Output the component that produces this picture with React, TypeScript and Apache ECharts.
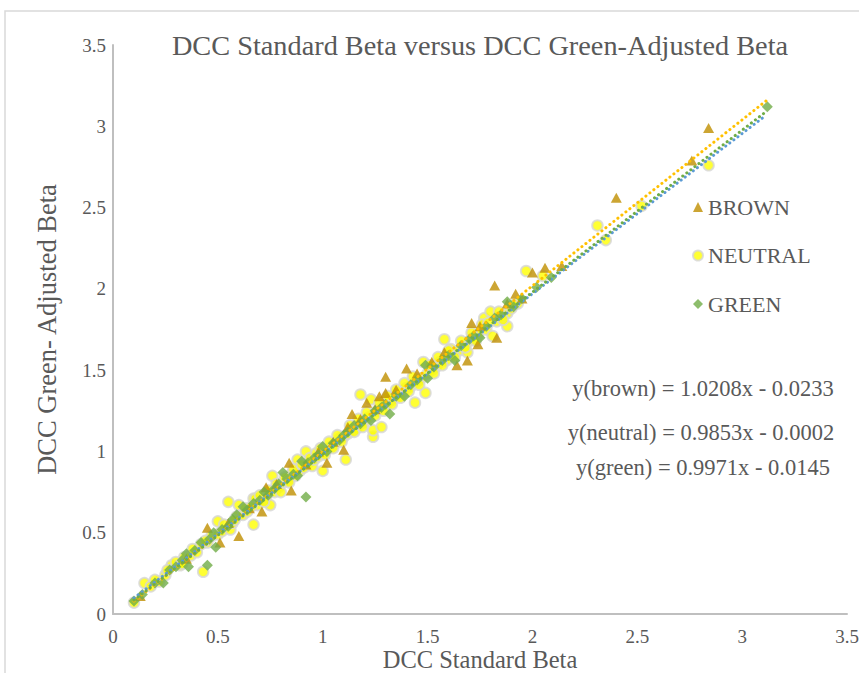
import React, { useEffect, useRef } from "react";
import * as echarts from "echarts";

const FONT = "Liberation Serif";
const TEXT = "#595959";

const seriesNames = ["BROWN", "NEUTRAL", "GREEN"];
const xTicks = [0, 0.5, 1, 1.5, 2, 2.5, 3, 3.5];

const brown: [number, number][] = [
  [0.13, 0.11], [0.35, 0.34], [0.45, 0.53], [0.51, 0.44], [0.55, 0.56], [0.6, 0.48], [0.65, 0.65],
  [0.71, 0.63], [0.73, 0.78], [0.78, 0.8], [0.84, 0.93], [0.85, 0.76], [0.92, 0.92], [0.98, 1.0],
  [1.02, 0.93], [1.05, 1.06], [1.1, 1.01], [1.12, 1.15], [1.14, 1.23], [1.18, 1.2], [1.21, 1.3],
  [1.25, 1.26], [1.27, 1.34], [1.3, 1.46], [1.3, 1.36], [1.35, 1.38], [1.4, 1.51], [1.45, 1.48],
  [1.52, 1.55], [1.58, 1.61], [1.64, 1.53], [1.69, 1.56], [1.71, 1.79], [1.74, 1.66], [1.75, 1.77],
  [1.82, 2.02], [1.83, 1.7], [1.88, 1.91], [1.92, 1.97], [1.95, 1.94], [2.0, 2.1], [2.06, 2.13],
  [2.14, 2.14], [2.4, 2.56], [2.76, 2.79], [2.84, 2.99],
];

const neutral: [number, number][] = [
  [0.1, 0.07], [0.15, 0.19], [0.18, 0.17], [0.22, 0.2], [0.25, 0.24], [0.28, 0.3], [0.3, 0.32],
  [0.32, 0.3], [0.34, 0.35], [0.37, 0.36], [0.4, 0.38], [0.42, 0.43], [0.43, 0.26], [0.45, 0.44],
  [0.47, 0.48], [0.5, 0.57], [0.5, 0.49], [0.52, 0.51], [0.55, 0.69], [0.56, 0.52], [0.57, 0.56],
  [0.59, 0.6], [0.6, 0.67], [0.62, 0.61], [0.64, 0.63], [0.67, 0.55], [0.67, 0.71], [0.68, 0.71],
  [0.69, 0.67], [0.71, 0.7], [0.73, 0.72], [0.75, 0.67], [0.76, 0.85], [0.77, 0.75], [0.79, 0.78],
  [0.8, 0.75], [0.81, 0.81], [0.83, 0.82], [0.85, 0.86], [0.87, 0.85], [0.88, 0.95], [0.89, 0.88],
  [0.91, 0.9], [0.92, 1.0], [0.93, 0.93], [0.95, 0.91], [0.96, 0.95], [0.98, 0.97], [1.0, 0.88],
  [1.0, 0.99], [1.02, 1.01], [1.04, 1.03], [1.06, 1.05], [1.08, 1.08], [1.1, 1.09], [1.11, 0.95],
  [1.12, 1.11], [1.14, 1.13], [1.16, 1.14], [1.18, 1.35], [1.18, 1.17], [1.2, 1.18], [1.22, 1.21],
  [1.23, 1.32], [1.24, 1.09], [1.24, 1.13], [1.26, 1.25], [1.28, 1.15], [1.28, 1.27], [1.3, 1.28],
  [1.32, 1.31], [1.34, 1.33], [1.36, 1.34], [1.38, 1.37], [1.4, 1.39], [1.42, 1.4], [1.44, 1.3],
  [1.45, 1.43], [1.47, 1.45], [1.48, 1.55], [1.49, 1.36], [1.5, 1.48], [1.52, 1.5], [1.54, 1.52],
  [1.56, 1.55], [1.58, 1.69], [1.59, 1.56], [1.61, 1.63], [1.62, 1.6], [1.65, 1.62], [1.67, 1.65],
  [1.69, 1.61], [1.7, 1.68], [1.72, 1.7], [1.74, 1.72], [1.77, 1.82], [1.78, 1.75], [1.8, 1.86],
  [1.81, 1.71], [1.83, 1.8], [1.85, 1.83], [1.88, 1.77], [1.88, 1.85], [1.9, 1.88], [1.93, 1.91],
  [1.97, 2.11], [2.05, 2.08], [2.31, 2.39], [2.35, 2.3], [2.52, 2.51], [2.84, 2.76],
  [0.2, 0.21], [0.26, 0.27], [0.33, 0.31], [0.38, 0.4], [0.44, 0.45], [0.53, 0.55], [0.58, 0.58],
  [0.63, 0.65], [0.66, 0.66], [0.7, 0.73], [0.72, 0.69], [0.74, 0.76], [0.78, 0.8], [0.82, 0.84],
  [0.84, 0.81], [0.86, 0.89], [0.9, 0.92], [0.94, 0.96], [0.97, 0.99], [0.99, 1.02], [1.01, 0.98],
  [1.03, 1.06], [1.05, 1.02], [1.07, 1.1], [1.09, 1.06], [1.13, 1.16], [1.15, 1.12], [1.17, 1.2],
  [1.19, 1.15], [1.21, 1.24], [1.25, 1.22], [1.27, 1.3], [1.29, 1.25], [1.31, 1.34], [1.33, 1.29],
  [1.35, 1.38], [1.37, 1.33], [1.39, 1.42], [1.41, 1.37], [1.43, 1.46], [1.46, 1.41], [1.51, 1.53],
  [1.53, 1.48], [1.55, 1.58], [1.57, 1.53], [1.6, 1.62], [1.63, 1.58], [1.66, 1.68], [1.68, 1.64],
  [1.71, 1.73], [1.73, 1.68], [1.76, 1.78], [1.79, 1.79], [1.84, 1.86], [1.86, 1.81], [1.91, 1.9],
];

const green: [number, number][] = [
  [0.1, 0.08], [0.14, 0.12], [0.2, 0.19], [0.24, 0.19], [0.27, 0.27], [0.3, 0.29], [0.33, 0.33],
  [0.35, 0.37], [0.36, 0.29], [0.39, 0.39], [0.42, 0.44], [0.45, 0.3], [0.46, 0.46], [0.48, 0.5],
  [0.49, 0.41], [0.52, 0.52], [0.55, 0.54], [0.57, 0.58], [0.59, 0.61], [0.62, 0.66], [0.64, 0.64],
  [0.67, 0.68], [0.7, 0.7], [0.72, 0.75], [0.74, 0.73], [0.77, 0.77], [0.79, 0.8], [0.81, 0.87],
  [0.83, 0.83], [0.86, 0.86], [0.88, 0.85], [0.9, 0.94], [0.92, 0.72], [0.93, 0.93], [0.96, 0.96],
  [0.98, 0.98], [1.0, 1.03], [1.02, 1.0], [1.05, 1.05], [1.08, 1.07], [1.1, 1.1], [1.12, 1.12],
  [1.15, 1.16], [1.18, 1.17], [1.2, 1.2], [1.23, 1.19], [1.25, 1.25], [1.28, 1.27], [1.3, 1.29],
  [1.32, 1.23], [1.35, 1.34], [1.39, 1.34], [1.42, 1.41], [1.45, 1.44], [1.49, 1.53], [1.5, 1.45],
  [1.53, 1.52], [1.57, 1.56], [1.6, 1.59], [1.63, 1.56], [1.66, 1.65], [1.7, 1.69], [1.72, 1.71],
  [1.75, 1.7], [1.78, 1.77], [1.82, 1.82], [1.85, 1.84], [1.88, 1.92], [1.91, 1.89], [1.95, 1.94],
  [2.02, 2.01], [2.09, 2.07], [3.12, 3.12],
];

const brownTrend: [number, number][] = [[0.1, 0.079], [3.12, 3.162]];
const neutralTrend: [number, number][] = [[0.1, 0.098], [3.1, 3.054]];
const greenTrend: [number, number][] = [[0.1, 0.085], [3.12, 3.096]];

const equations = [
  "y(brown) = 1.0208x - 0.0233",
  "y(neutral) = 0.9853x - 0.0002",
  "y(green) = 0.9971x - 0.0145",
];

export default function App() {
  const ref = useRef<HTMLDivElement>(null);
  useEffect(() => {
    document.body.style.margin = "0";
    const chart = echarts.init(ref.current!, null, { renderer: "svg" });
    const trendStyle = (color: string) => ({
      color,
      width: 3,
      type: [0.1, 5] as any,
      cap: "round" as any,
    });
    chart.setOption({
      animation: false,
      backgroundColor: "#ffffff",
      grid: { left: 113, right: 12, top: 45, bottom: 59, outerBoundsMode: "none", containLabel: false },
      xAxis: {
        type: "value",
        min: xTicks[0],
        max: xTicks[xTicks.length - 1],
        interval: 0.5,
        axisLine: { show: true, lineStyle: { color: "#BFBFBF", width: 2 } },
        axisTick: { show: false },
        splitLine: { show: false },
        axisLabel: { color: TEXT, fontSize: 19, fontFamily: FONT, margin: 13 },
        name: "DCC Standard Beta",
        nameLocation: "middle",
        nameGap: 33,
        nameMoveOverlap: false,
        nameTextStyle: { color: TEXT, fontSize: 24.5, fontFamily: FONT, lineHeight: 24 },
      },
      yAxis: {
        type: "value",
        min: 0,
        max: 3.5,
        interval: 0.5,
        axisLine: { show: true, lineStyle: { color: "#BFBFBF", width: 2 } },
        axisTick: { show: false },
        splitLine: { show: false },
        axisLabel: { color: TEXT, fontSize: 19, fontFamily: FONT, margin: 7 },
        name: "DCC Green- Adjusted Beta",
        nameLocation: "middle",
        nameGap: 53,
        nameMoveOverlap: false,
        nameRotate: 90,
        nameTextStyle: { color: TEXT, fontSize: 26.5, fontFamily: FONT },
      },
      legend: {
        data: seriesNames,
        orient: "vertical",
        left: 687,
        top: 191,
        itemWidth: 10,
        itemHeight: 10,
        itemGap: 26.5,
        textStyle: { color: TEXT, fontSize: 22, fontFamily: FONT, lineHeight: 22 },
      },
      graphic: [
        {
          type: "rect",
          shape: { x: 5, y: 11, width: 900, height: 700 },
          style: { fill: "none", stroke: "#D9D9D9", lineWidth: 1.5 },
          silent: true,
          z: -10,
        },
        {
          type: "text",
          x: 480,
          y: 45,
          style: {
            text: "DCC Standard Beta versus DCC Green-Adjusted Beta",
            fill: TEXT,
            font: `28.3px "${FONT}"`,
            textAlign: "center",
            textVerticalAlign: "middle",
          },
        },
        ...equations.map((t, i) => ({
          type: "text",
          x: [703, 701, 703][i],
          y: [388, 432, 467][i],
          style: {
            text: t,
            fill: TEXT,
            font: `22.5px "${FONT}"`,
            textAlign: "center",
            textVerticalAlign: "middle",
          },
        })),
      ],
      series: [
        {
          name: "NEUTRAL",
          type: "scatter",
          data: neutral,
          symbol: "circle",
          symbolSize: 10.5,
          itemStyle: { color: "#FFFF00", borderColor: "#D6D6D6", borderWidth: 2 },
          z: 2,
        },
        {
          name: "BROWN",
          type: "scatter",
          data: brown,
          symbol: "triangle",
          symbolSize: [11, 10],
          itemStyle: { color: "#BF8F00" },
          z: 3,
        },
        {
          name: "GREEN",
          type: "scatter",
          data: green,
          symbol: "diamond",
          symbolSize: 11,
          itemStyle: { color: "#70AD47" },
          z: 4,
        },
        {
          name: "brownTrend",
          type: "line",
          data: brownTrend,
          showSymbol: false,
          symbol: "none",
          lineStyle: trendStyle("#FFC000"),
          z: 5,
        },
        {
          name: "neutralTrend",
          type: "line",
          data: neutralTrend,
          showSymbol: false,
          symbol: "none",
          lineStyle: trendStyle("#5B9BD5"),
          z: 5,
        },
        {
          name: "greenTrend",
          type: "line",
          data: greenTrend,
          showSymbol: false,
          symbol: "none",
          lineStyle: trendStyle("#70AD47"),
          z: 5,
        },
      ],
    });
    return () => chart.dispose();
  }, []);
  return <div ref={ref} style={{ width: 859, height: 673 }} />;
}
